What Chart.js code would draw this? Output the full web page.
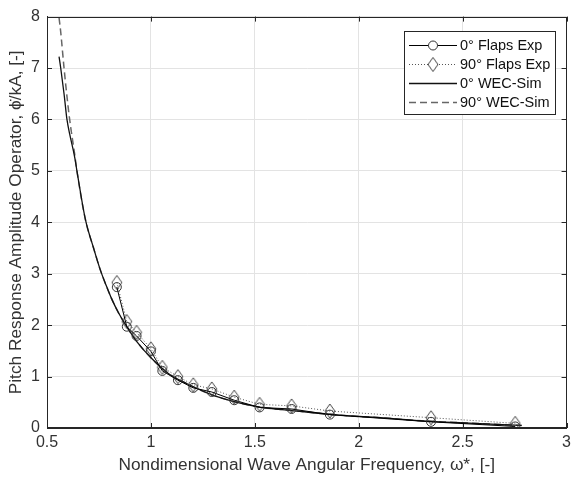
<!DOCTYPE html>
<html>
<head>
<meta charset="utf-8">
<script src="https://cdn.jsdelivr.net/npm/chart.js@4/dist/chart.umd.min.js"></script>
<style>
html,body{margin:0;padding:0;background:#fff;}
#wrap{width:576px;height:489px;position:relative;}
</style>
</head>
<body>
<div id="wrap"><canvas id="c" width="576" height="489"></canvas></div>
<script>
// ---- data ----
const xFlaps   = [0.836, 0.884, 0.931, 1.000, 1.055, 1.130, 1.204, 1.293, 1.401, 1.523, 1.677, 1.861, 2.348, 2.753];
const flaps0   = [2.74, 1.97, 1.79, 1.49, 1.11, 0.93, 0.78, 0.70, 0.54, 0.40, 0.37, 0.26, 0.12, 0.03];
const flaps90  = [2.83, 2.07, 1.86, 1.54, 1.18, 1.00, 0.84, 0.76, 0.60, 0.46, 0.43, 0.33, 0.20, 0.09];

const xWec     = [0.558, 0.566, 0.582, 0.596, 0.609, 0.634, 0.644, 0.685, 0.724, 0.756, 0.784, 0.808, 0.844, 0.879, 0.934, 1.004, 1.084, 1.174, 1.304, 1.504, 1.704, 1.904, 2.104, 2.304, 2.504, 2.784];
const wec0     = [7.22, 7.00, 6.50, 6.00, 5.72, 5.25, 5.00, 4.05, 3.50, 3.08, 2.78, 2.54, 2.24, 2.00, 1.67, 1.35, 1.06, 0.86, 0.63, 0.42, 0.33, 0.25, 0.20, 0.14, 0.10, 0.05];
const wec90    = [7.98, 7.70, 7.00, 6.45, 6.00, 5.30, 5.00, 4.05, 3.50, 3.08, 2.78, 2.54, 2.24, 2.00, 1.67, 1.35, 1.06, 0.86, 0.63, 0.42, 0.33, 0.25, 0.20, 0.14, 0.10, 0.05];

const seriesLabels = ['0\u00B0 Flaps Exp', '90\u00B0 Flaps Exp', '0\u00B0 WEC-Sim', '90\u00B0 WEC-Sim'];
const xTicks = [0.5, 1, 1.5, 2, 2.5, 3];
const yTicks = [0, 1, 2, 3, 4, 5, 6, 7, 8];
const xTitle = 'Nondimensional Wave Angular Frequency, \u03C9*, [-]';
const yTitle = 'Pitch Response Amplitude Operator, \u03D5\u0307/kA, [-]';

// ---- styles ----
const AX = '#262626';
const TXT = '#333';
const FONT = 'Liberation Sans, Arial, sans-serif';

function diamondCanvas(w, h, color) {
  const cv = document.createElement('canvas');
  cv.width = w + 2; cv.height = h + 2;
  const g = cv.getContext('2d');
  g.strokeStyle = color; g.lineWidth = 1;
  g.beginPath();
  g.moveTo(cv.width / 2, 1);
  g.lineTo(cv.width - 1, cv.height / 2);
  g.lineTo(cv.width / 2, cv.height - 1);
  g.lineTo(1, cv.height / 2);
  g.closePath();
  g.stroke();
  return cv;
}
const diamond = diamondCanvas(10, 14, '#444');

const toPts = (xs, ys) => xs.map((x, i) => ({x: x, y: ys[i]}));

const datasets = [
  {label: seriesLabels[0], data: toPts(xFlaps, flaps0), borderColor: '#000', borderWidth: 1,
   pointStyle: 'circle', pointRadius: 4.5, pointBorderColor: '#333', pointBackgroundColor: 'rgba(0,0,0,0)', pointBorderWidth: 1, order: 1},
  {label: seriesLabels[1], data: toPts(xFlaps, flaps90), borderColor: '#555', borderWidth: 1, borderDash: [1, 2],
   pointStyle: diamond, pointRadius: 5, pointBorderColor: '#444', pointBackgroundColor: 'rgba(0,0,0,0)', order: 2},
  {label: seriesLabels[2], data: toPts(xWec, wec0), borderColor: '#111', borderWidth: 1.3, pointRadius: 0, order: 3, cubicInterpolationMode: 'monotone'},
  {label: seriesLabels[3], data: toPts(xWec, wec90), borderColor: '#666', borderWidth: 1.5, borderDash: [7, 4], pointRadius: 0, order: 4, cubicInterpolationMode: 'monotone'}
];

const framePlugin = {
  id: 'frame',
  beforeDatasetsDraw(chart) {
    const {ctx, chartArea: a, scales: {x, y}} = chart;
    ctx.save();
    ctx.strokeStyle = AX; ctx.lineWidth = 1;
    ctx.beginPath();
    xTicks.forEach(v => {
      const px = Math.round(x.getPixelForValue(v)) + 0.5;
      ctx.moveTo(px, a.bottom); ctx.lineTo(px, a.bottom - 5);
      ctx.moveTo(px, a.top); ctx.lineTo(px, a.top + 5);
    });
    yTicks.forEach(v => {
      const py = Math.round(y.getPixelForValue(v)) + 0.5;
      ctx.moveTo(a.left, py); ctx.lineTo(a.left + 5, py);
      ctx.moveTo(a.right, py); ctx.lineTo(a.right - 5, py);
    });
    ctx.stroke();
    ctx.restore();
  },
  afterDraw(chart) {
    const {ctx, chartArea: a} = chart;
    ctx.save();
    ctx.strokeStyle = AX; ctx.lineWidth = 1;
    ctx.strokeRect(Math.round(a.left) + 0.5, Math.round(a.top) + 0.5, Math.round(a.right - a.left) - 1, Math.round(a.bottom - a.top) - 1);
    // legend
    const bx = 404.5, by = 31.5, bw = 151, bh = 83;
    ctx.fillStyle = '#fff';
    ctx.fillRect(bx, by, bw, bh);
    ctx.strokeRect(bx, by, bw, bh);
    const rows = [45, 64, 83, 102];
    chart.data.datasets.forEach((ds, i) => {
      const ry = rows[i] + 0.5;
      ctx.save();
      ctx.strokeStyle = ds.borderColor;
      ctx.lineWidth = ds.borderWidth;
      ctx.setLineDash(ds.borderDash || []);
      ctx.beginPath(); ctx.moveTo(409, ry); ctx.lineTo(457, ry); ctx.stroke();
      ctx.setLineDash([]);
      if (i === 0) {
        ctx.fillStyle = '#fff';
        ctx.beginPath(); ctx.arc(433, ry, 4.5, 0, Math.PI * 2); ctx.fill();
        ctx.strokeStyle = '#333'; ctx.lineWidth = 1; ctx.stroke();
      } else if (i === 1) {
        ctx.fillStyle = '#fff';
        ctx.fillRect(428, ry - 7, 10, 14);
        ctx.drawImage(diamond, 433 - diamond.width / 2, ry - diamond.height / 2);
      }
      ctx.restore();
      ctx.fillStyle = '#111';
      ctx.font = '14.5px ' + FONT;
      ctx.textBaseline = 'middle';
      ctx.textAlign = 'left';
      ctx.fillText(ds.label, 460, ry);
    });
    ctx.restore();
  }
};

new Chart(document.getElementById('c'), {
  type: 'scatter',
  data: {datasets: datasets},
  plugins: [framePlugin],
  options: {
    responsive: false,
    animation: false,
    showLine: true,
    layout: {padding: {top: 14, right: 4, left: 0, bottom: 0}},
    plugins: {legend: {display: false}, tooltip: {enabled: false}},
    elements: {line: {tension: 0}},
    scales: {
      x: {
        type: 'linear', min: 0.5, max: 3,
        afterBuildTicks: s => { s.ticks = xTicks.map(v => ({value: v})); },
        afterFit: s => { s.height = 61; },
        ticks: {color: TXT, font: {family: FONT, size: 16}, padding: 5, maxRotation: 0, callback: v => String(v)},
        grid: {color: '#e3e3e3', drawTicks: false, lineWidth: 1},
        border: {color: AX},
        title: {display: true, text: xTitle, color: TXT, font: {family: FONT, size: 17.3}, padding: {top: 0, bottom: 13}}
      },
      y: {
        type: 'linear', min: 0, max: 8,
        afterBuildTicks: s => { s.ticks = yTicks.map(v => ({value: v})); },
        afterFit: s => { s.width = 47; },
        ticks: {color: TXT, font: {family: FONT, size: 16}, padding: 7, callback: v => String(v)},
        grid: {color: '#e3e3e3', drawTicks: false, lineWidth: 1},
        border: {color: AX},
        title: {display: true, text: yTitle, color: TXT, font: {family: FONT, size: 17.3}, padding: {top: 6, bottom: 0}}
      }
    }
  }
});
</script>
</body>
</html>
